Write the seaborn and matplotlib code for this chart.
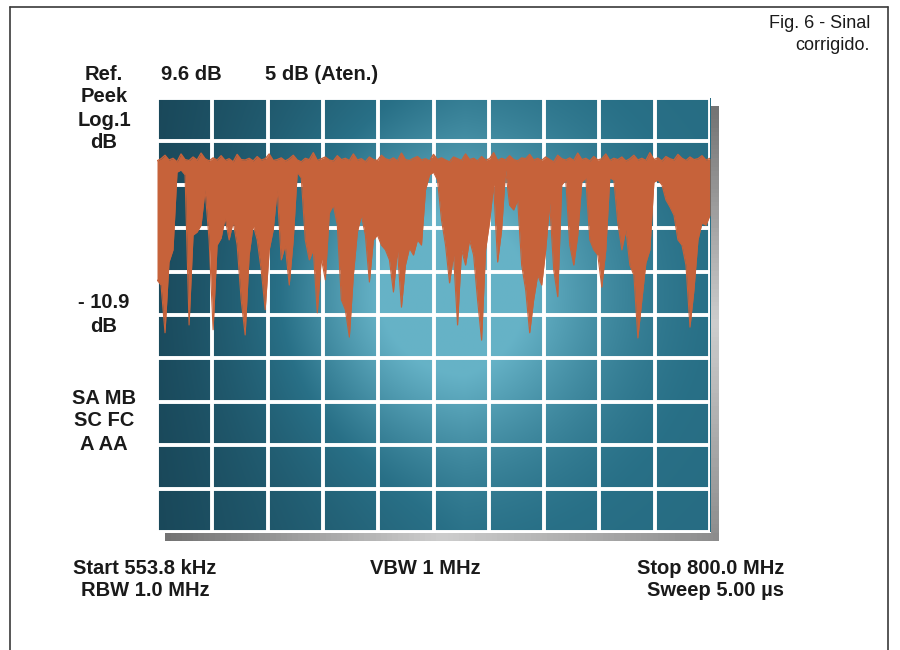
import numpy as np
import matplotlib
matplotlib.use("Agg")
import matplotlib.pyplot as plt
from matplotlib.lines import Line2D
import seaborn as sns
import pandas as pd

# Sweep settings of the analyser display
START_MHZ = 0.5538
STOP_MHZ = 800.0
REF_DB = 9.6
DB_PER_DIV = 1.0
N_DIV = 10

# Lower edge of the displayed trace (dB), left to right across the sweep
trace_floor_db = [
    5.41, 5.29, 4.19, 5.82, 6.10, 7.89, 7.94, 7.83, 4.37, 6.44,
    6.51, 6.67, 7.48, 6.33, 4.26, 6.21, 6.37, 6.83, 6.33, 6.75,
    6.21, 4.95, 4.14, 5.98, 6.67, 6.33, 5.64, 4.72, 6.10, 6.56,
    7.48, 5.87, 6.21, 5.29, 6.33, 7.89, 7.76, 6.33, 5.87, 6.10,
    4.65, 5.91, 5.41, 6.95, 7.13, 6.67, 4.95, 4.72, 4.09, 5.52,
    6.51, 6.90, 6.44, 5.36, 6.33, 6.44, 6.21, 6.10, 5.87, 5.13,
    6.10, 4.78, 5.75, 6.14, 5.98, 6.33, 6.21, 7.48, 7.83, 7.89,
    7.71, 6.79, 6.21, 5.34, 5.98, 4.37, 6.10, 5.75, 6.33, 5.98,
    4.95, 4.02, 6.10, 6.75, 7.60, 5.82, 6.56, 7.94, 7.13, 7.02,
    7.25, 5.75, 5.18, 4.19, 4.95, 5.52, 5.29, 6.10, 7.18, 5.64,
    5.02, 7.60, 7.71, 6.21, 5.75, 6.44, 7.66, 7.76, 6.33, 6.10,
    5.98, 5.24, 6.10, 7.76, 7.71, 6.72, 6.10, 6.56, 5.75, 5.52,
    4.07, 4.95, 5.80, 6.10, 7.66, 7.71, 7.60, 7.25, 7.09, 6.90,
    6.33, 6.21, 5.75, 4.32, 5.18, 6.33, 6.72, 6.67, 6.90,
]

# Upper (peak) edge of the trace (dB)
trace_peak_db = [
    8.15, 8.20, 8.28, 8.17, 8.21, 8.13, 8.31, 8.18, 8.16, 8.24,
    8.17, 8.33, 8.20, 8.15, 8.22, 8.17, 8.27, 8.16, 8.20, 8.13,
    8.30, 8.18, 8.17, 8.21, 8.15, 8.25, 8.17, 8.20, 8.31, 8.16,
    8.18, 8.22, 8.15, 8.20, 8.28, 8.17, 8.13, 8.21, 8.18, 8.34,
    8.16, 8.20, 8.24, 8.17, 8.15, 8.27, 8.18, 8.21, 8.16, 8.31,
    8.17, 8.20, 8.13, 8.24, 8.18, 8.16, 8.28, 8.20, 8.17, 8.22,
    8.15, 8.33, 8.18, 8.16, 8.21, 8.25, 8.17, 8.20, 8.15, 8.30,
    8.18, 8.22, 8.17, 8.13, 8.24, 8.20, 8.16, 8.31, 8.18, 8.21,
    8.15, 8.25, 8.17, 8.20, 8.34, 8.16, 8.21, 8.17, 8.27, 8.18,
    8.15, 8.22, 8.20, 8.30, 8.17, 8.21, 8.16, 8.24, 8.18, 8.13,
    8.28, 8.20, 8.17, 8.22, 8.16, 8.33, 8.18, 8.21, 8.15, 8.25,
    8.17, 8.20, 8.31, 8.16, 8.21, 8.18, 8.24, 8.15, 8.20, 8.28,
    8.17, 8.21, 8.16, 8.34, 8.18, 8.22, 8.15, 8.25, 8.20, 8.17,
    8.30, 8.21, 8.16, 8.24, 8.18, 8.20, 8.27, 8.17, 8.21,
]

left_labels = [("Ref.", 74), ("Peek", 97), ("Log.1", 120), ("dB", 143),
               ("- 10.9", 302), ("dB", 327),
               ("SA MB", 398), ("SC FC", 421), ("A AA", 444)]

freq = np.linspace(START_MHZ, STOP_MHZ, len(trace_floor_db))
df = pd.DataFrame({"freq": freq, "floor": trace_floor_db, "peak": trace_peak_db})

sns.set_theme(style="white")
plt.rcParams["font.family"] = ["Liberation Sans", "DejaVu Sans"]

W, H = 900, 650
fig = plt.figure(figsize=(W / 100, H / 100), dpi=100)
fig.patch.set_facecolor("white")


def fx(px):
    return px / W


def fy(py):
    return 1 - py / H


# Page frame
frame_kw = dict(color="#3a3a3a", lw=1.2, transform=fig.transFigure)
fig.add_artist(Line2D([fx(10), fx(10)], [fy(7), fy(652)], **frame_kw))
fig.add_artist(Line2D([fx(10), fx(888)], [fy(7), fy(7)], **frame_kw))
fig.add_artist(Line2D([fx(888), fx(888)], [fy(7), fy(652)], **frame_kw))

# Drop shadow of the screen
g_left, g_right, g_top, g_bot = 157, 710, 98, 532
sh_r = fig.add_axes([fx(g_right + 1), fy(g_bot + 9), fx(8), (g_bot + 9 - (g_top + 8)) / H])
sh_b = fig.add_axes([fx(g_left + 8), fy(g_bot + 9), fx(g_right + 9 - (g_left + 8)), 8 / H])
grad = np.concatenate([np.linspace(0.45, 0.8, 50), np.linspace(0.8, 0.55, 50)])
sh_b.imshow(grad[None, :], cmap="gray", vmin=0, vmax=1, aspect="auto")
sh_r.imshow(grad[:, None], cmap="gray", vmin=0, vmax=1, aspect="auto")
for a in (sh_r, sh_b):
    a.set_axis_off()

# Screen
ax = fig.add_axes([fx(g_left), fy(g_bot), fx(g_right - g_left), (g_bot - g_top) / H])
y_bot = REF_DB - N_DIV * DB_PER_DIV
ax.set_xlim(START_MHZ, STOP_MHZ)
ax.set_ylim(y_bot, REF_DB)

# Glowing teal background of the display
u = np.linspace(0, 1, 400)[None, :]
v = np.linspace(0, 1, 320)[:, None]
glow = np.exp(-((u - 0.5) / 0.30) ** 2 - ((v - 0.45) / 0.36) ** 2)
s = np.clip(0.45 * np.clip(u * 1.8, 0, 1) + 0.75 * glow, 0, 1)[..., None]
dark = np.array([0.10, 0.28, 0.35])
mid = np.array([0.16, 0.44, 0.53])
light = np.array([0.40, 0.70, 0.78])
img = np.where(s < 0.5, dark + (mid - dark) * (s / 0.5),
               mid + (light - mid) * ((s - 0.5) / 0.5))
ax.imshow(img, extent=[START_MHZ, STOP_MHZ, y_bot, REF_DB], aspect="auto",
          zorder=0, interpolation="bilinear")

ax.set_xticks(np.linspace(START_MHZ, STOP_MHZ, N_DIV + 1))
ax.set_yticks(np.linspace(y_bot, REF_DB, N_DIV + 1))
ax.grid(True, color="white", lw=2.8, zorder=1)
ax.set_axisbelow(False)
ax.tick_params(length=0, labelbottom=False, labelleft=False)
for sp in ax.spines.values():
    sp.set_visible(False)

orange = "#c6623a"
ax.fill_between(df["freq"], df["floor"], df["peak"], color=orange, lw=0, zorder=3)
sns.lineplot(data=df, x="freq", y="peak", ax=ax, color=orange, lw=1.0, zorder=3)
sns.lineplot(data=df, x="freq", y="floor", ax=ax, color=orange, lw=0.8, zorder=3)
ax.set_xlabel("")
ax.set_ylabel("")
ax.set_xlim(START_MHZ, STOP_MHZ)
ax.set_ylim(y_bot, REF_DB)

# Annotations around the screen
tk = dict(fontsize=14.5, fontweight="bold", color="#1a1a1a", va="center")
for txt, py in left_labels:
    fig.text(fx(104), fy(py), txt, ha="center", **tk)
fig.text(fx(161), fy(74), "9.6 dB", ha="left", **tk)
fig.text(fx(265), fy(74), "5 dB (Aten.)", ha="left", **tk)
fig.text(fx(145), fy(568), "Start 553.8 kHz", ha="center", **tk)
fig.text(fx(145), fy(591), "RBW 1.0 MHz", ha="center", **tk)
fig.text(fx(425), fy(568), "VBW 1 MHz", ha="center", **tk)
fig.text(fx(784), fy(568), "Stop 800.0 MHz", ha="right", **tk)
fig.text(fx(784), fy(591), "Sweep 5.00 µs", ha="right", **tk)
fig.text(fx(870), fy(23), "Fig. 6 - Sinal", ha="right", va="center",
         fontsize=13, color="#1a1a1a")
fig.text(fx(870), fy(45), "corrigido.", ha="right", va="center",
         fontsize=13, color="#1a1a1a")

fig.savefig("out.png", dpi=100, facecolor="white")
